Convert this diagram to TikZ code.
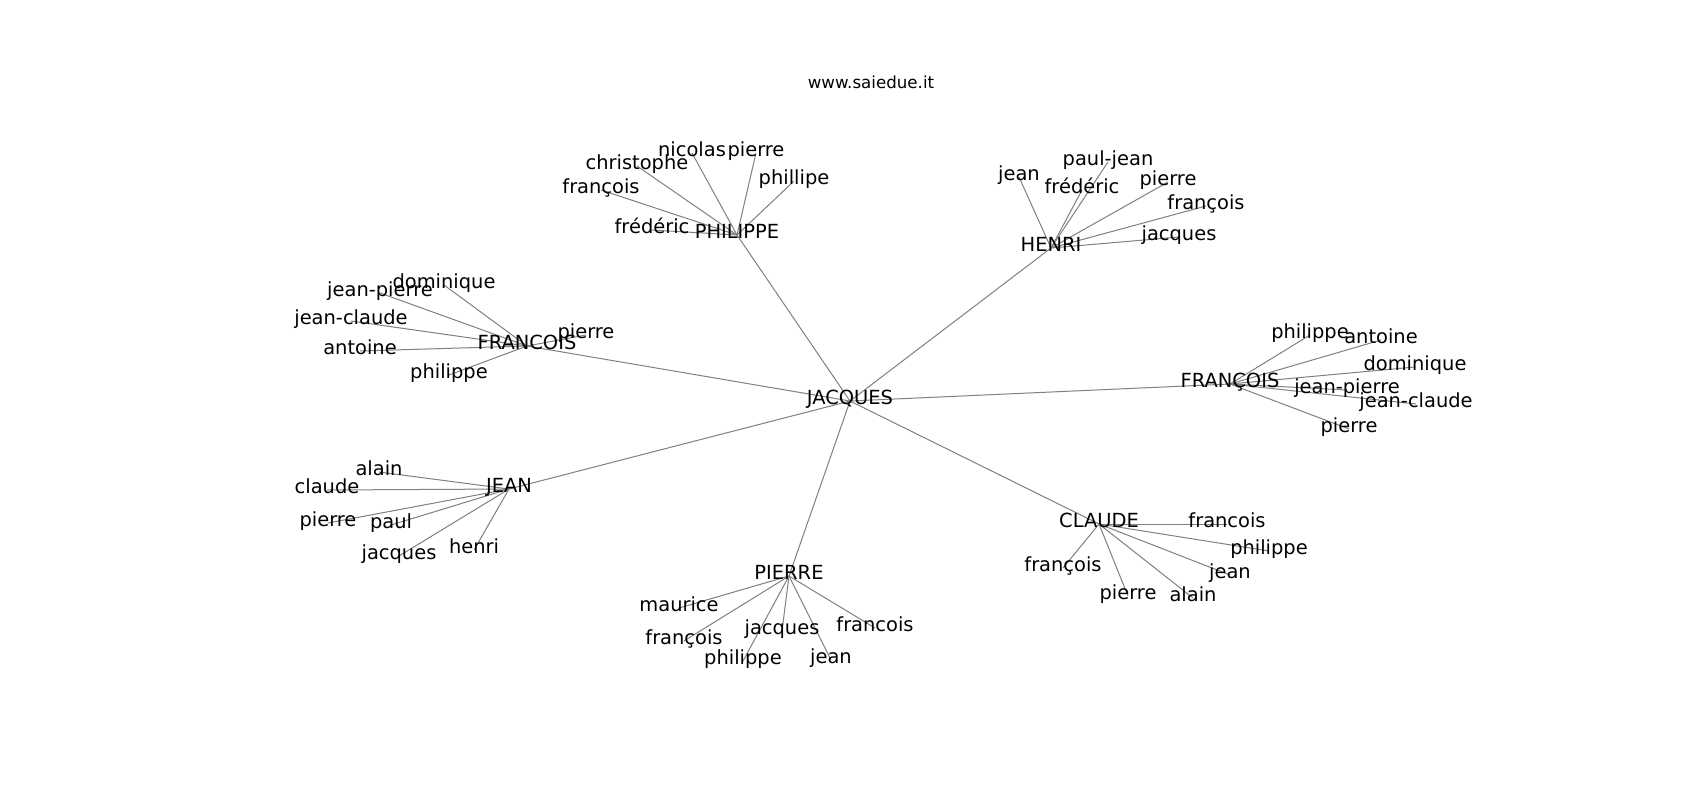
\documentclass[tikz,border=0pt]{standalone}
\usepackage{fontspec}
\setmainfont{DejaVu Sans}
\definecolor{edgegray}{RGB}{128,128,128}
\tikzset{
  lbl/.style={inner sep=0pt, outer sep=0pt, text height=0.76em, text depth=0.24em,
    font=\fontsize{14}{16}\selectfont, anchor=center},
  ttl/.style={inner sep=0pt, text height=0.76em, text depth=0.24em,
    font=\fontsize{12}{14}\selectfont, anchor=center},
  edge/.style={draw=edgegray, line width=0.72pt}
}
\begin{document}
\begin{tikzpicture}[x=0.72pt, y=-0.72pt]
\useasboundingbox[fill=white] (0,0) rectangle (1700,800);
\begin{scope}[yshift=-3*0.72pt]
% coordinates of nodes
\coordinate (JAC) at (850,398);
\coordinate (PHI) at (737,232);
\coordinate (HEN) at (1051,245);
\coordinate (FRC) at (527,343);
\coordinate (FRC2) at (1230,381);
\coordinate (JEA) at (509,486);
\coordinate (PIE) at (789,573);
\coordinate (CLA) at (1099,521);
% PHILIPPE leaves
\coordinate (phA) at (692,150);
\coordinate (phB) at (756,150);
\coordinate (phC) at (637,163);
\coordinate (phD) at (794,178);
\coordinate (phE) at (601,187);
\coordinate (phF) at (652,227);
% HENRI leaves
\coordinate (heA) at (1019,174);
\coordinate (heB) at (1108,159);
\coordinate (heC) at (1082,187);
\coordinate (heD) at (1168,179);
\coordinate (heE) at (1206,203);
\coordinate (heF) at (1179,234);
% FRANCOIS leaves
\coordinate (fcA) at (444,282);
\coordinate (fcB) at (380,290);
\coordinate (fcC) at (351,318);
\coordinate (fcD) at (360,348);
\coordinate (fcE) at (586,332);
\coordinate (fcF) at (449,372);
% FRANÇOIS leaves
\coordinate (fdA) at (1310,332);
\coordinate (fdB) at (1381,337);
\coordinate (fdC) at (1415,364);
\coordinate (fdD) at (1347,387);
\coordinate (fdE) at (1416,401);
\coordinate (fdF) at (1349,426);
% JEAN leaves
\coordinate (jeA) at (379,469);
\coordinate (jeB) at (327,487);
\coordinate (jeC) at (328,520);
\coordinate (jeD) at (391,522);
\coordinate (jeE) at (474,547);
\coordinate (jeF) at (399,553);
% PIERRE leaves
\coordinate (piA) at (679,605);
\coordinate (piB) at (684,638);
\coordinate (piC) at (782,628);
\coordinate (piD) at (875,625);
\coordinate (piE) at (743,658);
\coordinate (piF) at (831,657);
% CLAUDE leaves
\coordinate (clA) at (1227,521);
\coordinate (clB) at (1269,548);
\coordinate (clC) at (1063,565);
\coordinate (clD) at (1230,572);
\coordinate (clE) at (1128,593);
\coordinate (clF) at (1193,595);
% edges
\foreach \h in {PHI,HEN,FRC,FRC2,JEA,PIE,CLA} \draw[edge] (JAC) -- (\h);
\foreach \l in {phA,phB,phC,phD,phE,phF} \draw[edge] (PHI) -- (\l);
\foreach \l in {heA,heB,heC,heD,heE,heF} \draw[edge] (HEN) -- (\l);
\foreach \l in {fcA,fcB,fcC,fcD,fcE,fcF} \draw[edge] (FRC) -- (\l);
\foreach \l in {fdA,fdB,fdC,fdD,fdE,fdF} \draw[edge] (FRC2) -- (\l);
\foreach \l in {jeA,jeB,jeC,jeD,jeE,jeF} \draw[edge] (JEA) -- (\l);
\foreach \l in {piA,piB,piC,piD,piE,piF} \draw[edge] (PIE) -- (\l);
\foreach \l in {clA,clB,clC,clD,clE,clF} \draw[edge] (CLA) -- (\l);
% labels
\node[ttl] (title) at (871,82) {www.saiedue.it};
\node[lbl] (tJAC) at (JAC) {JACQUES};
\node[lbl] (tPHI) at (PHI) {PHILIPPE};
\node[lbl] (tHEN) at (HEN) {HENRI};
\node[lbl] (tFRC) at (FRC) {FRANCOIS};
\node[lbl] (tFRC2) at (FRC2) {FRANÇOIS};
\node[lbl] (tJEA) at (JEA) {JEAN};
\node[lbl] (tPIE) at (PIE) {PIERRE};
\node[lbl] (tCLA) at (CLA) {CLAUDE};
\node[lbl] (tphA) at (phA) {nicolas};
\node[lbl] (tphB) at (phB) {pierre};
\node[lbl] (tphC) at (phC) {christophe};
\node[lbl] (tphD) at (phD) {phillipe};
\node[lbl] (tphE) at (phE) {françois};
\node[lbl] (tphF) at (phF) {frédéric};
\node[lbl] (theA) at (heA) {jean};
\node[lbl] (theB) at (heB) {paul-jean};
\node[lbl] (theC) at (heC) {frédéric};
\node[lbl] (theD) at (heD) {pierre};
\node[lbl] (theE) at (heE) {françois};
\node[lbl] (theF) at (heF) {jacques};
\node[lbl] (tfcA) at (fcA) {dominique};
\node[lbl] (tfcB) at (fcB) {jean-pierre};
\node[lbl] (tfcC) at (fcC) {jean-claude};
\node[lbl] (tfcD) at (fcD) {antoine};
\node[lbl] (tfcE) at (fcE) {pierre};
\node[lbl] (tfcF) at (fcF) {philippe};
\node[lbl] (tfdA) at (fdA) {philippe};
\node[lbl] (tfdB) at (fdB) {antoine};
\node[lbl] (tfdC) at (fdC) {dominique};
\node[lbl] (tfdD) at (fdD) {jean-pierre};
\node[lbl] (tfdE) at (fdE) {jean-claude};
\node[lbl] (tfdF) at (fdF) {pierre};
\node[lbl] (tjeA) at (jeA) {alain};
\node[lbl] (tjeB) at (jeB) {claude};
\node[lbl] (tjeC) at (jeC) {pierre};
\node[lbl] (tjeD) at (jeD) {paul};
\node[lbl] (tjeE) at (jeE) {henri};
\node[lbl] (tjeF) at (jeF) {jacques};
\node[lbl] (tpiA) at (piA) {maurice};
\node[lbl] (tpiB) at (piB) {françois};
\node[lbl] (tpiC) at (piC) {jacques};
\node[lbl] (tpiD) at (piD) {francois};
\node[lbl] (tpiE) at (piE) {philippe};
\node[lbl] (tpiF) at (piF) {jean};
\node[lbl] (tclA) at (clA) {francois};
\node[lbl] (tclB) at (clB) {philippe};
\node[lbl] (tclC) at (clC) {françois};
\node[lbl] (tclD) at (clD) {jean};
\node[lbl] (tclE) at (clE) {pierre};
\node[lbl] (tclF) at (clF) {alain};
\end{scope}
\end{tikzpicture}
\end{document}
